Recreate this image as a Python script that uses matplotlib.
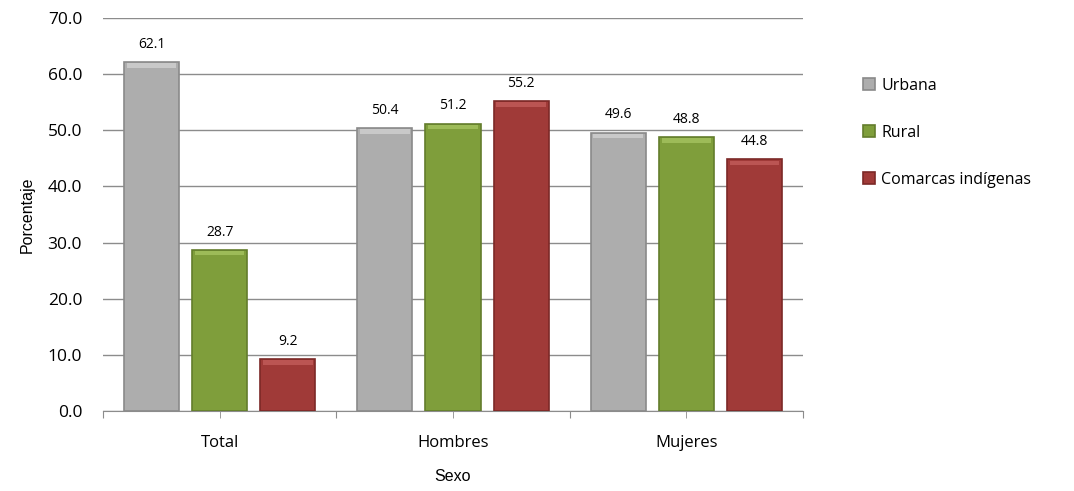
#!/usr/bin/env python3

import numpy as np
import matplotlib
matplotlib.use('Agg')
import matplotlib.pyplot as plt

# data
categories = ['Total', 'Hombres', 'Mujeres']
series = ['Urbana', 'Rural', 'Comarcas indígenas']
urbana = [62.1, 50.4, 49.6]
rural = [28.7, 51.2, 48.8]
comarcas = [9.2, 55.2, 44.8]
yticks = [0, 10, 20, 30, 40, 50, 60, 70]

colors = ['#adadad', '#7f9e3b', '#a03a38']
edges = ['#8a8a8a', '#637d2c', '#7c2927']
tops = ['#c9c9c9', '#9dbb58', '#bb5553']

plt.rcParams['font.family'] = ['Open Sans', 'DejaVu Sans']

fig = plt.figure(figsize=(10.74, 4.91), dpi=100)
ax = fig.add_axes([103 / 1074, 1 - 411 / 491, 700 / 1074, 393 / 491])

x = np.arange(len(categories))
width = 0.236
offset = 0.292

for i, vals in enumerate([urbana, rural, comarcas]):
    pos = x + (i - 1) * offset
    ax.bar(pos, vals, width, color=colors[i], edgecolor=edges[i],
           linewidth=1.2, label=series[i], zorder=3)
    # soft bevel at the top of each bar
    ax.bar(pos, [0.8] * len(vals), width * 0.9, bottom=[v - 1.0 for v in vals],
           color=tops[i], linewidth=0, zorder=4)
    for p, v in zip(pos, vals):
        ax.text(p, v + 1.8, f'{v:.1f}', ha='center', va='bottom', fontsize=10)

ax.set_xlim(-0.5, 2.5)
ax.set_ylim(0, 70)
ax.set_yticks(yticks)
ax.set_yticklabels([f'{t:.1f}' for t in yticks], fontsize=12.5)
ax.tick_params(axis='y', length=0, pad=15)
ax.grid(axis='y', color='#8c8c8c', linewidth=1, zorder=0)

ax.set_xticks([-0.5, 0.5, 1.5, 2.5])
ax.set_xticklabels([])
ax.set_xticks(x, minor=True)
ax.set_xticklabels(categories, minor=True, fontsize=12)
ax.tick_params(axis='x', which='both', length=5, color='#8c8c8c', pad=12)

for s in ['top', 'right', 'left']:
    ax.spines[s].set_visible(False)
ax.spines['bottom'].set_color('#8c8c8c')

ax.set_ylabel('Porcentaje', fontsize=11.5, family=['Liberation Sans'], labelpad=9)
ax.set_xlabel('Sexo', fontsize=11.5, family=['Liberation Sans'], labelpad=13)

ax.legend(loc='upper left', bbox_to_anchor=(1.065, 0.885), frameon=False,
          fontsize=11.5, handlelength=0.75, handleheight=0.75, handletextpad=0.4,
          labelspacing=1.95)

fig.savefig('out.png', dpi=100)
